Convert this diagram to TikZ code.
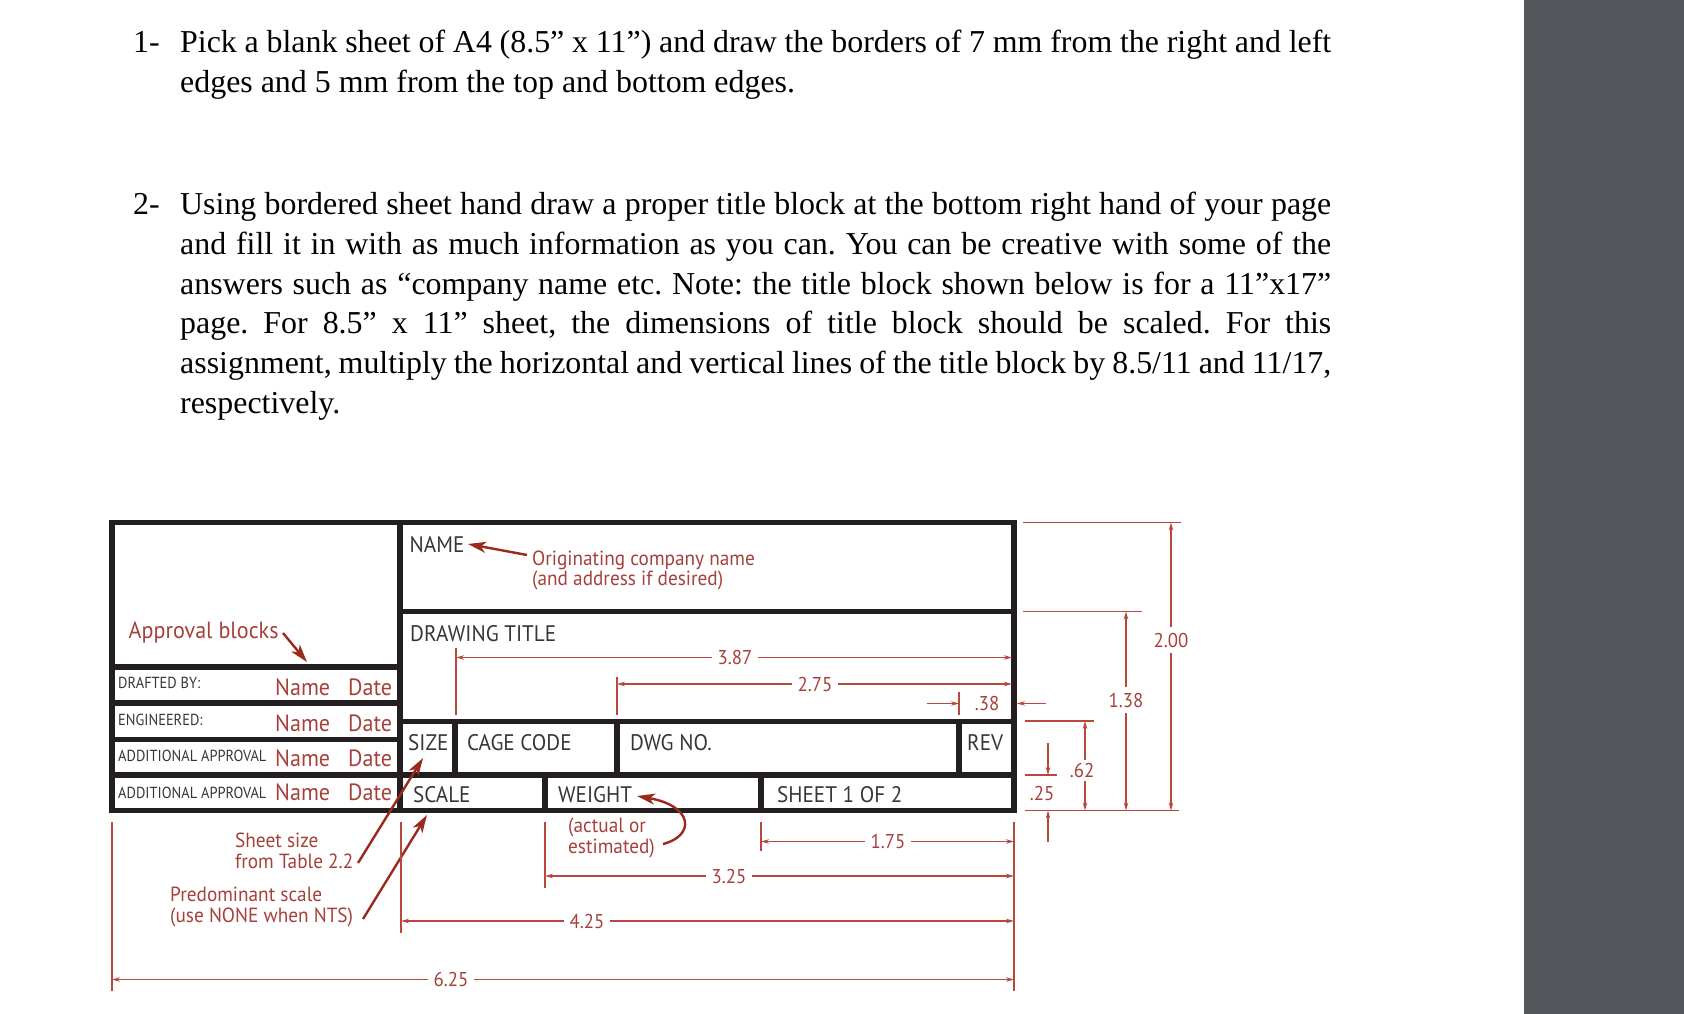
\documentclass[tikz,border=0pt]{standalone}
\usepackage{fontspec}
\setmainfont{Liberation Serif}
\newfontfamily\blockfont[FakeStretch=0.94]{PT Sans}
\newfontfamily\rowfont[FakeStretch=0.9]{PT Sans}
\usetikzlibrary{arrows.meta}
\definecolor{sidegray}{HTML}{53565A}
\definecolor{blockblack}{HTML}{231F20}
\definecolor{notered}{HTML}{A5403A}
\definecolor{leaderred}{HTML}{9A2A1E}
\definecolor{dimred}{HTML}{B8483E}
\tikzset{
  bodyline/.style={anchor=base west,inner sep=0pt,font=\fontsize{31.9}{36}\selectfont\frenchspacing},
  blockline/.style={blockblack,line width=5.4pt},
  celltext/.style={anchor=west,inner sep=0pt,text=blockblack!90,text height=16pt,text depth=0pt,font=\blockfont\fontsize{22.5}{26}\selectfont},
  rowtext/.style={anchor=west,inner sep=0pt,text=blockblack!90,text height=12pt,text depth=0pt,font=\rowfont\fontsize{16}{19}\selectfont},
  notetext/.style={anchor=west,inner sep=0pt,text=notered,text height=15pt,text depth=0pt,font=\blockfont\fontsize{20.5}{24}\selectfont},
  bignote/.style={notetext,text height=16pt,font=\blockfont\fontsize{23.5}{26}\selectfont},
  dimtext/.style={inner xsep=5pt,inner ysep=0pt,text=notered,text height=14pt,text depth=0pt,font=\blockfont\fontsize{20}{24}\selectfont},
  dimline/.style={dimred,line width=1.2pt},
  dimarrow/.style={dimline,-{Stealth[length=8pt,width=4.5pt]}},
  leader/.style={leaderred,line width=2.4pt,-{Stealth[length=18pt,width=11pt,inset=5pt]}},
}
\newcommand{\fitline}[1]{\hbox to 1151pt{#1}}
\begin{document}
\begin{tikzpicture}[x=1pt,y=-1pt]
\useasboundingbox (0,0) rectangle (1684,1014);
\fill[sidegray] (1524,0) rectangle (1684,1014);
% instructions
\node[bodyline] (num1) at (133,52.5) {1-};
\node[bodyline] (line1) at (180,52.5) {\fitline{Pick a blank sheet of A4 (8.5” x 11”) and draw the borders of 7 mm from the right and left}};
\node[bodyline] (line2) at (180,92.5) {edges and 5 mm from the top and bottom edges.};
\node[bodyline] (num2) at (133,214) {2-};
\node[bodyline] (line3) at (180,214) {\fitline{Using bordered sheet hand draw a proper title block at the bottom right hand of your page}};
\node[bodyline] (line4) at (180,254) {\fitline{and fill it in with as much information as you can. You can be creative with some of the}};
\node[bodyline] (line5) at (180,294) {\fitline{answers such as “company name etc. Note: the title block shown below is for a 11”x17”}};
\node[bodyline] (line6) at (180,333.5) {\fitline{page. For 8.5” x 11” sheet, the dimensions of title block should be scaled. For this}};
\node[bodyline] (line7) at (180,373.5) {\fitline{assignment, multiply the horizontal and vertical lines of the title block by 8.5/11 and 11/17,}};
\node[bodyline] (line8) at (180,413.5) {respectively.};
% title block frame
\draw[blockline] (112,522.5) rectangle (1014,810.5);
\draw[blockline] (400,522.5) -- (400,810.5);
\draw[blockline] (112,667) -- (400,667);
\draw[blockline] (112,703) -- (400,703);
\draw[blockline] (112,739.5) -- (400,739.5);
\draw[blockline] (112,775) -- (1014,775);
\draw[blockline] (400,611.5) -- (1014,611.5);
\draw[blockline] (400,721.5) -- (1014,721.5);
\draw[blockline] (455,721.5) -- (455,775);
\draw[blockline] (617,721.5) -- (617,775);
\draw[blockline] (959,721.5) -- (959,775);
\draw[blockline] (545,775) -- (545,810.5);
\draw[blockline] (761,775) -- (761,810.5);
% cell texts
\node[celltext] (name) at (409.5,544) {NAME};
\node[celltext] (title) at (410,633) {DRAWING TITLE};
\node[celltext] (size) at (408,742) {SIZE};
\node[celltext] (cage) at (467,742) {CAGE CODE};
\node[celltext] (dwg) at (630,742) {DWG NO.};
\node[celltext] (rev) at (967,742) {REV};
\node[celltext] (scale) at (413,794) {SCALE};
\node[celltext] (weight) at (558,794) {WEIGHT};
\node[celltext] (sheet) at (777,794) {SHEET 1 OF 2};
\node[rowtext] (drafted) at (118,682.5) {DRAFTED BY:};
\node[rowtext] (engineered) at (118,719.5) {ENGINEERED:};
\node[rowtext] (addone) at (118,755.5) {ADDITIONAL APPROVAL};
\node[rowtext] (addtwo) at (118,792) {ADDITIONAL APPROVAL};
% approval notes
\node[bignote] (approval) at (128.5,630) {Approval blocks};
\node[bignote] (nameone) at (275,687) {Name};
\node[bignote] (dateone) at (348,687) {Date};
\node[bignote] (nametwo) at (275,723) {Name};
\node[bignote] (datetwo) at (348,723) {Date};
\node[bignote] (namethree) at (275,758.5) {Name};
\node[bignote] (datethree) at (348,758.5) {Date};
\node[bignote] (namefour) at (275,792) {Name};
\node[bignote] (datefour) at (348,792) {Date};
\node[notetext] (orig) at (532,558) {Originating company name};
\node[notetext] (addr) at (532,578) {(and address if desired)};
\node[notetext] (sheetone) at (235,840) {Sheet size};
\node[notetext] (sheettwo) at (235,861) {from Table 2.2};
\node[notetext] (predone) at (170,894) {Predominant scale};
\node[notetext] (predtwo) at (170,914.5) {(use NONE when NTS)};
\node[notetext] (actual) at (568,825) {(actual or};
\node[notetext] (estim) at (568,845.5) {estimated)};
% leaders
\coordinate (apptip) at (307,662);
\coordinate (appfoot) at (283,633);
\coordinate (sizetip) at (423,758);
\coordinate (sheetfoot) at (358,863);
\coordinate (scaletip) at (427,815);
\coordinate (predfoot) at (363,919);
\coordinate (estimfoot) at (663,844);
\coordinate (weighttip) at (637,796);
\coordinate (origfoot) at (527,555);
\coordinate (nametip) at (468,544);
\draw[leader] (origfoot) -- (nametip);
\draw[leader] (appfoot) -- (apptip);
\draw[leader] (sheetfoot) -- (sizetip);
\draw[leader] (predfoot) -- (scaletip);
\draw[leader] (estimfoot) .. controls (695,836) and (694,806) .. (weighttip);
% horizontal dimensions on the block
\coordinate (extA) at (456,648);
\coordinate (extAe) at (456,715);
\coordinate (extB) at (617,677);
\coordinate (extBe) at (617,715);
\coordinate (extC) at (959,692);
\coordinate (extCe) at (959,715);
\coordinate (rightin) at (1012,700);
\draw[dimline] (extA) -- (extAe);
\draw[dimline] (extB) -- (extBe);
\draw[dimline] (extC) -- (extCe);
\node[dimtext] (dimA) at (735,657.5) {3.87};
\node[dimtext] (dimB) at (815,684) {2.75};
\node[dimtext] (dimC) at (987,703.5) {.38};
\draw[dimarrow] (dimA.west) -- (extA |- dimA);
\draw[dimarrow] (dimA.east) -- (rightin |- dimA);
\draw[dimarrow] (dimB.west) -- (extB |- dimB);
\draw[dimarrow] (dimB.east) -- (rightin |- dimB);
\coordinate (tailC) at (927,703.5);
\coordinate (tailCr) at (1046,703.5);
\coordinate (tipCr) at (1017,703.5);
\draw[dimarrow] (tailC) -- (extC |- tailC);
\draw[dimarrow] (tailCr) -- (tipCr);
% bottom dimensions
\coordinate (extD) at (112,822);
\coordinate (extDe) at (112,991);
\coordinate (extE) at (401,822);
\coordinate (extEe) at (401,933);
\coordinate (extF) at (545,822);
\coordinate (extFe) at (545,888);
\coordinate (extG) at (761,822);
\coordinate (extGe) at (761,851);
\coordinate (extR) at (1014,822);
\coordinate (extRe) at (1014,991);
\draw[dimline] (extD) -- (extDe);
\draw[dimline] (extE) -- (extEe);
\draw[dimline] (extF) -- (extFe);
\draw[dimline] (extG) -- (extGe);
\draw[dimline] (extR) -- (extRe);
\node[dimtext] (dimG) at (888,841.5) {1.75};
\node[dimtext] (dimF) at (729,876) {3.25};
\node[dimtext] (dimE) at (587,921) {4.25};
\node[dimtext] (dimD) at (451,979.5) {6.25};
\draw[dimarrow] (dimG.west) -- (extG |- dimG);
\draw[dimarrow] (dimG.east) -- (extR |- dimG);
\draw[dimarrow] (dimF.west) -- (extF |- dimF);
\draw[dimarrow] (dimF.east) -- (extR |- dimF);
\draw[dimarrow] (dimE.west) -- (extE |- dimE);
\draw[dimarrow] (dimE.east) -- (extR |- dimE);
\draw[dimarrow] (dimD.west) -- (extD |- dimD);
\draw[dimarrow] (dimD.east) -- (extR |- dimD);
% right dimensions
\coordinate (topL) at (1023,522.5);
\coordinate (topR) at (1181,522.5);
\coordinate (midL) at (1023,611.5);
\coordinate (midR) at (1142,611.5);
\coordinate (lowL) at (1025,721);
\coordinate (lowR) at (1094,721);
\coordinate (subL) at (1025,775);
\coordinate (subR) at (1057,775);
\coordinate (botL) at (1025,810.5);
\coordinate (botR) at (1179,810.5);
\draw[dimline] (topL) -- (topR);
\draw[dimline] (midL) -- (midR);
\draw[dimline] (lowL) -- (lowR);
\draw[dimline] (subL) -- (subR);
\draw[dimline] (botL) -- (botR);
\node[dimtext,inner ysep=6pt] (dimH) at (1171,640) {2.00};
\node[dimtext,inner ysep=6pt] (dimI) at (1126,700) {1.38};
\node[dimtext] (dimJ) at (1082,770) {.62};
\node[dimtext] (dimK) at (1042,793) {.25};
\draw[dimarrow] (dimH.north) -- (dimH |- topR);
\draw[dimarrow] (dimH.south) -- (dimH |- botR);
\draw[dimarrow] (dimI.north) -- (dimI |- midR);
\draw[dimarrow] (dimI.south) -- (dimI |- botR);
\coordinate (tailJ) at (1085,760);
\coordinate (tailJb) at (1085,781);
\draw[dimarrow] (tailJ) -- (tailJ |- lowR);
\draw[dimarrow] (tailJb) -- (tailJb |- botR);
\coordinate (tailK) at (1048,743);
\coordinate (tailKb) at (1048,842);
\draw[dimarrow] (tailK) -- (tailK |- subR);
\draw[dimarrow] (tailKb) -- (tailKb |- botR);
\end{tikzpicture}
\end{document}
